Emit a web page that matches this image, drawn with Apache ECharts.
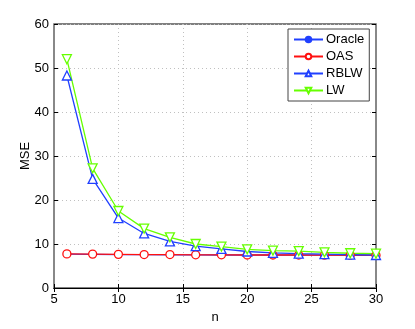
<!DOCTYPE html>
<html>
<head>
<meta charset="utf-8">
<script src="https://cdn.jsdelivr.net/npm/echarts@6/dist/echarts.min.js"></script>
<style>
html,body{margin:0;padding:0;background:#fff;}
#chart{width:415px;height:329px;}
</style>
</head>
<body>
<div id="chart"></div>
<script>
var nValues = [6, 8, 10, 12, 14, 16, 18, 20, 22, 24, 26, 28, 30];
var oracle = [7.7, 7.65, 7.6, 7.6, 7.55, 7.55, 7.5, 7.5, 7.5, 7.45, 7.45, 7.4, 7.4];
var oas = [7.75, 7.7, 7.65, 7.6, 7.6, 7.55, 7.55, 7.5, 7.5, 7.5, 7.45, 7.45, 7.45];
var rblw = [48.3, 24.8, 15.9, 12.4, 10.6, 9.5, 8.9, 8.3, 8.0, 7.8, 7.7, 7.6, 7.5];
var lw = [52.0, 27.2, 17.5, 13.5, 11.5, 10.0, 9.4, 8.8, 8.5, 8.4, 8.1, 7.9, 7.8];

var font = 'Liberation Sans, Arial, sans-serif';

function pairs(ys) {
    var out = [];
    for (var i = 0; i < nValues.length; i++) out.push([nValues[i], ys[i]]);
    return out;
}

function serie(name, ys, color, symbol, size, filled) {
    return {
        name: name,
        type: 'line',
        data: pairs(ys),
        symbol: symbol,
        symbolSize: size,
        showAllSymbol: true,
        lineStyle: {color: color, width: 1.3},
        itemStyle: {color: filled ? color : '#fff', borderColor: color, borderWidth: 1.3},
        color: color
    };
}

var splitStyle = {show: true, lineStyle: {color: '#c0c0c0', type: [1, 3], width: 1}};

var option = {
    backgroundColor: '#fff',
    animation: false,
    textStyle: {fontFamily: font},
    grid: {left: 54, right: 39, top: 24, bottom: 37, show: true, borderColor: '#000', borderWidth: 1},
    legend: {
        orient: 'vertical',
        left: 288, top: 29,
        padding: [4, 5, 4, 5],
        itemGap: 4,
        itemWidth: 29, itemHeight: 7,
        backgroundColor: '#fff',
        borderColor: '#444', borderWidth: 1,
        textStyle: {fontFamily: font, fontSize: 13, color: '#000', padding: [0, 0, 0, -2]},
        data: ['Oracle', 'OAS', 'RBLW', 'LW']
    },
    xAxis: [{
        type: 'value', min: 5, max: 30, interval: 5,
        name: 'n', nameLocation: 'middle', nameGap: 23, nameMoveOverlap: false,
        nameTextStyle: {fontFamily: font, fontSize: 13, color: '#000'},
        axisLine: {show: true, onZero: false, lineStyle: {color: '#000', width: 1}},
        axisTick: {show: true, inside: true, length: 4, lineStyle: {color: '#000'}},
        axisLabel: {fontFamily: font, fontSize: 13, color: '#000', margin: 5},
        splitLine: splitStyle
    }, {
        type: 'value', min: 5, max: 30, interval: 5, position: 'top',
        axisLine: {show: true, lineStyle: {color: '#000', width: 1}},
        axisTick: {show: true, inside: true, length: 4, lineStyle: {color: '#000'}},
        axisLabel: {show: false}, splitLine: {show: false}
    }],
    yAxis: [{
        type: 'value', min: 0, max: 60, interval: 10,
        name: 'MSE', nameLocation: 'middle', nameGap: 22, nameRotate: 90, nameMoveOverlap: false,
        nameTextStyle: {fontFamily: font, fontSize: 13, color: '#000'},
        axisLine: {show: true, onZero: false, lineStyle: {color: '#888', width: 2}},
        axisTick: {show: true, inside: true, length: 4, lineStyle: {color: '#000'}},
        axisLabel: {fontFamily: font, fontSize: 13, color: '#000', margin: 5},
        splitLine: splitStyle
    }, {
        type: 'value', min: 0, max: 60, interval: 10, position: 'right',
        axisLine: {show: true, lineStyle: {color: '#888', width: 2}},
        axisTick: {show: true, inside: true, length: 4, lineStyle: {color: '#000'}},
        axisLabel: {show: false}, splitLine: {show: false}
    }],
    series: [
        serie('Oracle', oracle, '#2040ff', 'circle', 5, true),
        serie('OAS', oas, '#ff1010', 'circle', 8, false),
        serie('RBLW', rblw, '#2040ff', 'triangle', 9, false),
        serie('LW', lw, '#66ff00', 'path://M0,0 L10,0 L5,9 Z', 9, false)
    ]
};

var myChart = echarts.init(document.getElementById('chart'));
myChart.setOption(option);
</script>
</body>
</html>
